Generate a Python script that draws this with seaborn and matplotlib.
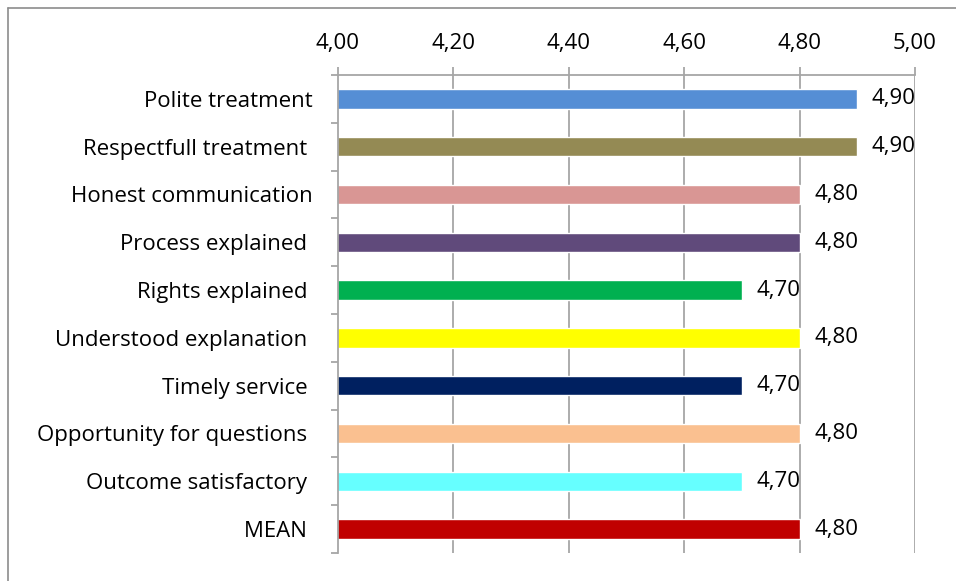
import matplotlib
matplotlib.use("Agg")
import matplotlib.pyplot as plt
from matplotlib.lines import Line2D
import seaborn as sns
import pandas as pd
import numpy as np

categories = [
    "Polite treatment",
    "Respectfull treatment ",
    "Honest communication",
    "Process explained ",
    "Rights explained ",
    "Understood explanation ",
    "Timely service ",
    "Opportunity for questions ",
    "Outcome satisfactory ",
    "MEAN ",
]
scores = [4.90, 4.90, 4.80, 4.80, 4.70, 4.80, 4.70, 4.80, 4.70, 4.80]
colors = ["#558ED5", "#948A54", "#D99694", "#604A7B", "#00B050",
          "#FFFF00", "#002060", "#FAC090", "#66FFFF", "#C00000"]
x_ticks = [4.00, 4.20, 4.40, 4.60, 4.80, 5.00]

df = pd.DataFrame({"item": categories, "score": scores})

sns.set_theme(style="white")
plt.rcParams["font.family"] = ["Open Sans", "DejaVu Sans"]
FS = 16

fig = plt.figure(figsize=(9.56, 5.81), dpi=100)
ax = fig.add_axes([338 / 956, 1 - 553 / 581, (915 - 338) / 956, (553 - 75) / 581])

sns.barplot(data=df, y="item", x="score", hue="item", palette=colors,
            legend=False, orient="h", width=0.41, ax=ax, saturation=1)

ax.set_xlim(4.0, 5.0)
ax.set_ylim(9.5, -0.5)
ax.set_xlabel("")
ax.set_ylabel("")

grid_c = "#A6A6A6"
for xv in x_ticks[1:]:
    ax.axvline(xv, color=grid_c, lw=1.3, zorder=0)

ax.xaxis.tick_top()
ax.set_xticks(x_ticks)
ax.set_xticklabels([f"{v:.2f}".replace(".", ",") for v in x_ticks])
ax.tick_params(axis="x", which="major", direction="out", length=6, width=1.3,
               color=grid_c, pad=9, labelsize=FS, labelcolor="black")

ax.set_yticks(np.arange(len(categories)))
ax.set_yticks(np.arange(-0.5, len(categories), 1.0), minor=True)
ax.tick_params(axis="y", which="major", length=0, pad=18, labelsize=FS,
               labelcolor="black")
ax.tick_params(axis="y", which="minor", direction="out", length=5, width=1.3,
               color=grid_c, left=True)

for side in ["right", "bottom"]:
    ax.spines[side].set_visible(False)
for side in ["left", "top"]:
    ax.spines[side].set_color(grid_c)
    ax.spines[side].set_linewidth(1.3)

for cont in ax.containers:
    vals = [r.get_width() for r in cont]
    ax.bar_label(cont, labels=[f"{v:.2f}".replace(".", ",") for v in vals],
                 padding=10.5, fontsize=FS, color="black")

# outer chart frame
frame_c = "#8C8C8C"
fig.add_artist(Line2D([7.5 / 956, 7.5 / 956], [0, 1 - 7.5 / 581],
                      transform=fig.transFigure, color=frame_c, lw=1.2))
fig.add_artist(Line2D([7.5 / 956, 1], [1 - 7.5 / 581, 1 - 7.5 / 581],
                      transform=fig.transFigure, color=frame_c, lw=1.2))

fig.savefig("out.png", dpi=100, facecolor="white")
